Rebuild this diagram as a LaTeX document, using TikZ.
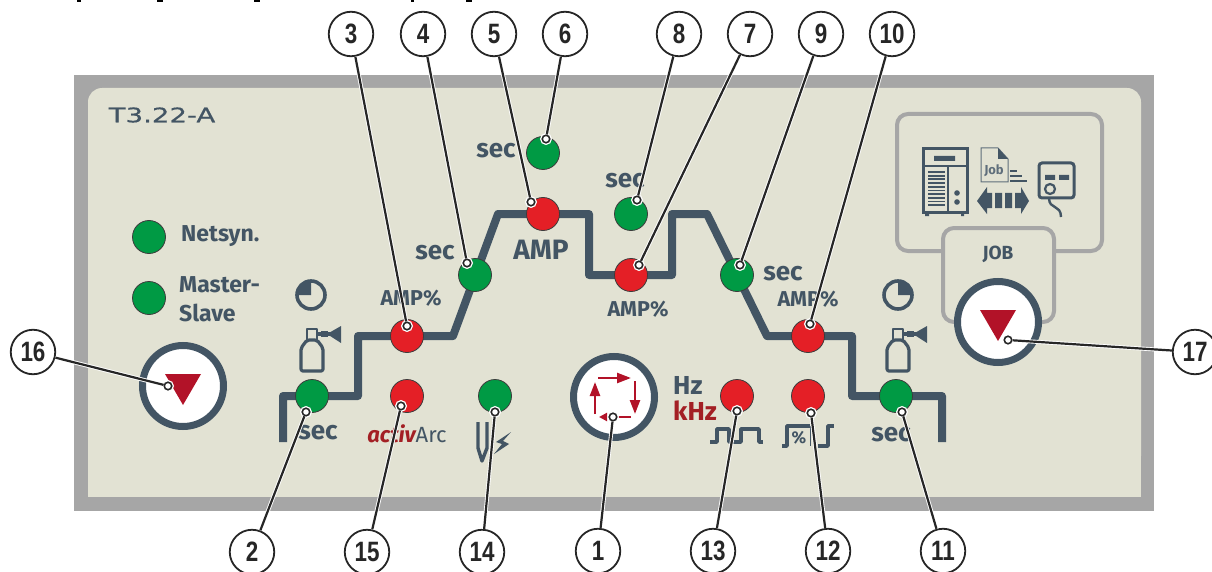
\documentclass[tikz,border=0pt]{standalone}
\usepackage{fontspec}
\setmainfont{Fira Sans}
\newfontfamily\callfont[FakeStretch=0.8]{Liberation Sans}
\newfontfamily\modelfont[FakeStretch=1.38,FakeBold=0.6]{DejaVu Sans}
\usetikzlibrary{arrows.meta,positioning}
\definecolor{rimgray}{HTML}{A6A6A6}
\definecolor{panelface}{HTML}{E2E2D3}
\definecolor{slate}{HTML}{435564}
\definecolor{lampgreen}{HTML}{009A44}
\definecolor{lampred}{HTML}{E41F26}
\definecolor{keyred}{HTML}{B21228}
\definecolor{khzred}{HTML}{A31F24}
\definecolor{inkdark}{HTML}{262626}
\tikzset{
  lamp/.style={circle,draw=inkdark!90,line width=0.8pt,minimum size=33pt,inner sep=0pt,fill=#1},
  knob/.style={circle,draw=slate,line width=7pt,minimum size=81pt,inner sep=0pt,fill=white},
  callout/.style={circle,draw=inkdark,line width=1.8pt,minimum size=44.5pt,inner sep=0pt,fill=white,
    font=\callfont\bfseries\fontsize{28}{28}\selectfont,text=inkdark},
  marker/.style={circle,draw=inkdark,line width=1.6pt,minimum size=7.5pt,inner sep=0pt,fill=white,
    preaction={draw=white,line width=4.2pt}},
  leader/.style={draw=inkdark,line width=2.2pt,preaction={draw=white,line width=4pt}},
  label/.style={text=slate,font=\bfseries\fontsize{23}{23}\selectfont,inner sep=0pt},
  seclabel/.style={text=slate,font=\bfseries\fontsize{26}{26}\selectfont,inner sep=0pt},
  smalllabel/.style={text=slate,font=\bfseries\fontsize{21.5}{21.5}\selectfont,inner sep=0pt},
  symline/.style={draw=slate,line width=3.2pt,line join=round},
  symkey/.style={-{Triangle[length=14pt,width=10pt]},draw=keyred,line width=2.4pt},
}
\begin{document}
\begin{tikzpicture}[x=1pt,y=-1pt]
\useasboundingbox (0,0) rectangle (1212,572);
% Cut heading above the panel
\foreach \a/\b in {77/81,157/163,254/260,411/414,466/472} {
  \fill[black] (\a,0) rectangle (\b,2.5);
}
% Panel
\fill[rimgray] (74,75) rectangle (1154,511);
\fill[panelface,rounded corners=14pt] (88,88) rectangle (1141,470);
\fill[panelface] (88,450) rectangle (1141,497);
\node[text=slate,font=\modelfont\fontsize{20}{20}\selectfont,inner sep=0pt] (model) at (162,115) {T3.22-A};
% Welding sequence line
\draw[slate,line width=8pt,line join=round]
  (283,442) -- (283,396) -- (358,396) -- (358,336) -- (453,336) -- (498,214) -- (589,214)
  -- (589,275) -- (672,275) -- (672,214) -- (707,214) -- (767,336) -- (852,336) -- (852,396)
  -- (942,396) -- (942,442);
% Lamps
\foreach \n/\x/\y/\c in {net/149/237/lampgreen,master/149/298/lampgreen,
  2/312/396/lampgreen,3/407/336/lampred,4/475/275/lampgreen,5/543/214/lampred,
  6/543/153/lampgreen,7/631/275/lampred,8/631/214/lampgreen,9/737/275/lampgreen,
  10/808/336/lampred,11/896/396/lampgreen,12/808/396/lampred,13/737/396/lampred,
  14/495/396/lampgreen,15/407/396/lampred} {
  \node[lamp=\c] (l\n) at (\x,\y) {};
}
% Labels
\node[label,anchor=west] (netsyn) at (181,236) {Netsyn.};
\node[label,anchor=west] (masterlab) at (179,285) {Master-};
\node[label,anchor=west] (slavelab) at (179,313) {Slave};
\foreach \n/\x/\y in {a/318/433,b/435/253,c/496/151,d/625/181,e/783/274,f/891/435} {
  \node[seclabel] (sec\n) at (\x,\y) {sec};
}
\node[text=slate,font=\bfseries\fontsize{28}{28}\selectfont,inner sep=0pt] (amp) at (541,250) {AMP};
\foreach \n/\x/\y in {a/411/298,b/638/309,c/808/299} {
  \node[smalllabel] (pct\n) at (\x,\y) {AMP\%};
}
\node[inner sep=0pt,font=\fontsize{22}{22}\selectfont] (activ) at (407,434)
  {\textcolor{khzred}{\bfseries\itshape activ}\textcolor{slate}{Arc}};
\node[seclabel,anchor=west] (hz) at (673,385) {Hz};
\node[seclabel,anchor=west,text=khzred] (khz) at (673,411) {kHz};
\node[text=slate,font=\bfseries\fontsize{19}{19}\selectfont,inner sep=0pt] (job) at (998,254) {JOB};
% Clocks
\foreach \cx/\ang in {311/180,898/0} {
  \draw[slate,line width=3.6pt] (\cx,295) circle (14pt);
  \fill[slate] (\cx,295) -- (\cx,282) arc[start angle=90,end angle=\ang,radius=13pt] -- cycle;
}
% Gas bottles
\foreach \ox in {0,586} {
  \begin{scope}[shift={(\ox,0)}]
    \draw[symline,rounded corners=2pt] (301,371) -- (301,348) -- (307,340) -- (317,340) -- (323,348) -- (323,371) -- cycle;
    \draw[symline,line width=2.8pt] (307,340) -- (307,329) -- (317,329) -- (317,340);
    \draw[symline] (317,334) -- (330,334);
    \draw[slate,line width=6pt] (321,334) -- (328,334);
    \fill[slate] (327,334) -- (341,326) -- (341,343) -- cycle;
  \end{scope}
}
% Torch and spark
\draw[symline,line width=3.4pt] (478,422) -- (478,448) -- (482,461) -- (487,448) -- (487,422);
\fill[slate] (511,432) -- (496,442) -- (502,444) -- (494,454) -- (509,444) -- (503,441) -- cycle;
% Pulse symbols
\draw[symline,line width=3.6pt] (710,442) -- (717,442) -- (717,429) -- (729,429) -- (729,442) -- (741,442)
  -- (741,429) -- (759,429) -- (759,442) -- (763,442);
\draw[symline,line width=3.6pt] (782,446) -- (787,446) -- (787,426) -- (810,426);
\draw[slate,line width=1pt] (810,426) -- (810,446);
\draw[symline,line width=3.6pt] (818,446) -- (828,446) -- (828,426) -- (834,426);
\node[text=slate,font=\bfseries\fontsize{17}{17}\selectfont,inner sep=0pt] (pctsym) at (799,438) {\%};
% JOB frame
\draw[rimgray,line width=4pt,rounded corners=11pt]
  (943,251) -- (897,251) -- (897,114) -- (1102,114) -- (1102,251) -- (1054,251);
\draw[rimgray,line width=4pt,rounded corners=11pt]
  (965,322) -- (943,322) -- (943,228) -- (1054,228) -- (1054,322) -- (1030,322);
% Power source
\draw[slate,line width=3pt] (923,149) rectangle (967,212);
\fill[slate] (925,212) rectangle (929,216) (961,212) rectangle (964,216) (934,156) rectangle (955,161);
\draw[slate,line width=2.2pt] (923,166) -- (967,166) (948,166) -- (948,212);
\foreach \y in {172,175.7,...,206} {
  \draw[slate,line width=1.8pt] (928,\y) -- (945,\y);
}
\fill[slate] (957,193) circle (2.8pt) (957,202) circle (2.8pt);
% Job file
\draw[slate!85,line width=1pt,fill=panelface] (981,148) -- (998,148) -- (1008,159) -- (1008,182) -- (981,182) -- cycle;
\fill[slate] (998,148) -- (1008,159) -- (998,159) -- cycle;
\node[text=slate!85,font=\bfseries\fontsize{13}{13}\selectfont,inner sep=0pt] (jobfile) at (994,171) {Job};
\draw[slate,line width=1.6pt] (1010,171) -- (1017,171) (1010,176) -- (1022,176) (1010,181) -- (1027,181);
\fill[slate] (977,201) -- (987,187) -- (987,193) -- (992,193) -- (992,208) -- (987,208) -- (987,214) -- cycle;
\fill[slate] (995,193) rectangle (1002,208) (1005,193) rectangle (1012,208);
\fill[slate] (1029,201) -- (1021,187) -- (1021,193) -- (1015,193) -- (1015,208) -- (1021,208) -- (1021,214) -- cycle;
% Remote control
\draw[slate,line width=3pt,rounded corners=3pt] (1039,163) rectangle (1074,198);
\fill[slate] (1045,175) rectangle (1055,180) (1059,175) rectangle (1069,180);
\draw[slate,line width=2.2pt] (1050,189) circle (5pt);
\draw[slate,line width=2.4pt] (1049,198) .. controls (1049,210) and (1061,204) .. (1061,217);
% Buttons
\node[knob] (keyleft) at (183,386) {};
\fill[keyred] (165,374) -- (201,374) -- (183,405) -- cycle;
\node[knob] (keyright) at (998,322) {};
\fill[keyred] (980,310) -- (1016,310) -- (998,341) -- cycle;
\node[knob] (keymode) at (614,397) {};
\draw[symkey] (598,378) -- (631,378);
\draw[symkey] (635,381) -- (635,414);
\draw[symkey,-{Triangle[length=8pt,width=8pt]}] (631,417) -- (599,417);
\draw[symkey] (595,414) -- (595,382);
% Numbered callouts
\foreach \n/\x/\y in {1/598/551,2/252/552,3/351/34,4/423/34,5/494/34,6/565/34,7/750/34,8/679/34,9/821/34,
  10/892/34,11/943/551,12/828/551,13/713/551,14/482/552,15/367/552,16/33/352,17/1195/352} {
  \node[callout] (c\n) at (\x,\y) {\n};
}
% Leaders
\foreach \n/\x/\y in {1/613/417,2/306/412,3/407/326,4/467/263,5/531/202,6/546/139,7/639/265,8/637/200,9/740/265,
  10/810/324,11/902/412,12/811/413,13/737/411,14/495/412,15/401/406,16/168/386,17/1008/340} {
  \node[marker] (m\n) at (\x,\y) {};
  \draw[leader] (c\n) -- (m\n);
}
\end{tikzpicture}
\end{document}
